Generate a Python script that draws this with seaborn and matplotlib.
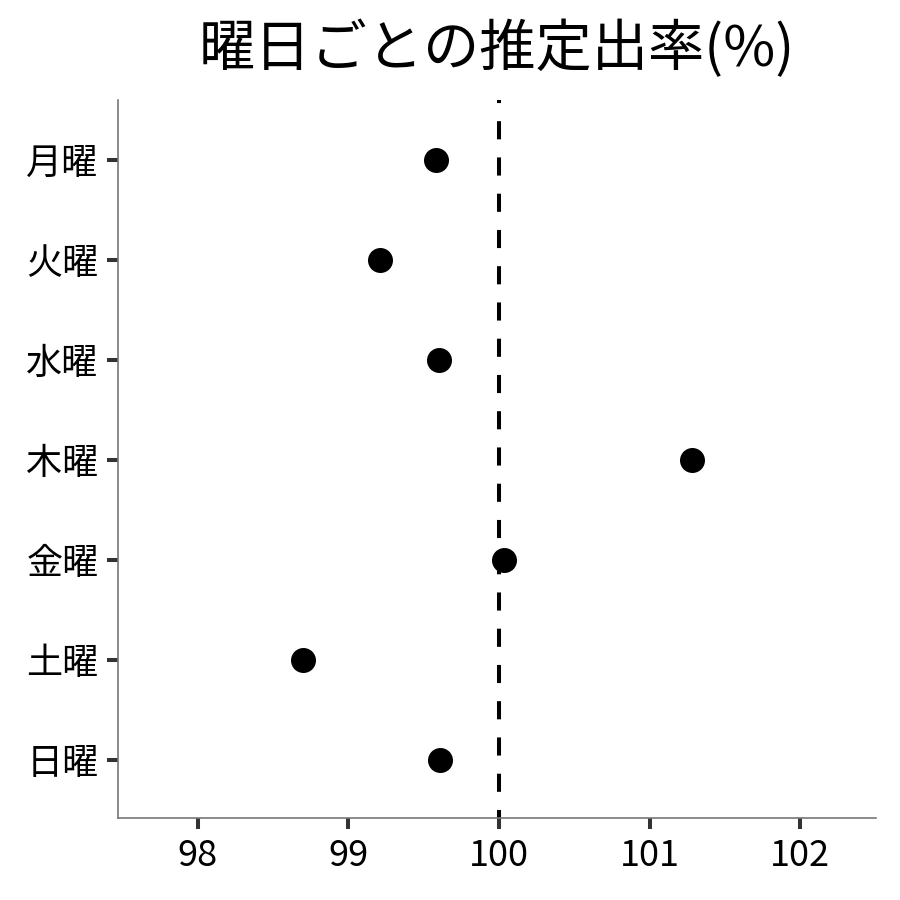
import pandas as pd
import matplotlib
matplotlib.use("Agg")
import matplotlib.pyplot as plt
import seaborn as sns

# Data
days = ["月曜", "火曜", "水曜", "木曜", "金曜", "土曜", "日曜"]
rates = [99.58, 99.21, 99.60, 101.28, 100.03, 98.70, 99.61]
xticks = [98, 99, 100, 101, 102]

df = pd.DataFrame({"day": days, "rate": rates})

sns.set_theme(style="white")
plt.rcParams["font.family"] = ["Noto Sans CJK JP", "DejaVu Sans"]
plt.rcParams["text.color"] = "black"

fig = plt.figure(figsize=(9, 9), dpi=100)
ax = fig.add_axes([0.131, 0.091, 0.842, 0.798])

# reference line at 100
ax.axvline(100, color="black", linestyle=(2.5, (4.5, 4.5)), linewidth=2.9,
           dash_capstyle="butt", zorder=1)
sns.stripplot(data=df, x="rate", y="day", order=days, jitter=False,
              color="black", size=18, linewidth=0, ax=ax, zorder=3)

ax.set_xlim(97.47, 102.5)
ax.set_ylim(6.58, -0.6)
ax.set_xticks(xticks)
ax.set_xticklabels([str(t) for t in xticks])
ax.set_xlabel("")
ax.set_ylabel("")
ax.set_title("曜日ごとの推定出率(%)", fontsize=40.5, pad=24, color="black")

for side in ["top", "right"]:
    ax.spines[side].set_visible(False)
for side in ["left", "bottom"]:
    ax.spines[side].set_color("#777777")
    ax.spines[side].set_linewidth(1.2)

ax.tick_params(axis="both", which="major", labelsize=26, length=8, width=2.9,
               color="#333333", labelcolor="black", pad=6, left=True, bottom=True)

fig.savefig("out.png", dpi=100)
